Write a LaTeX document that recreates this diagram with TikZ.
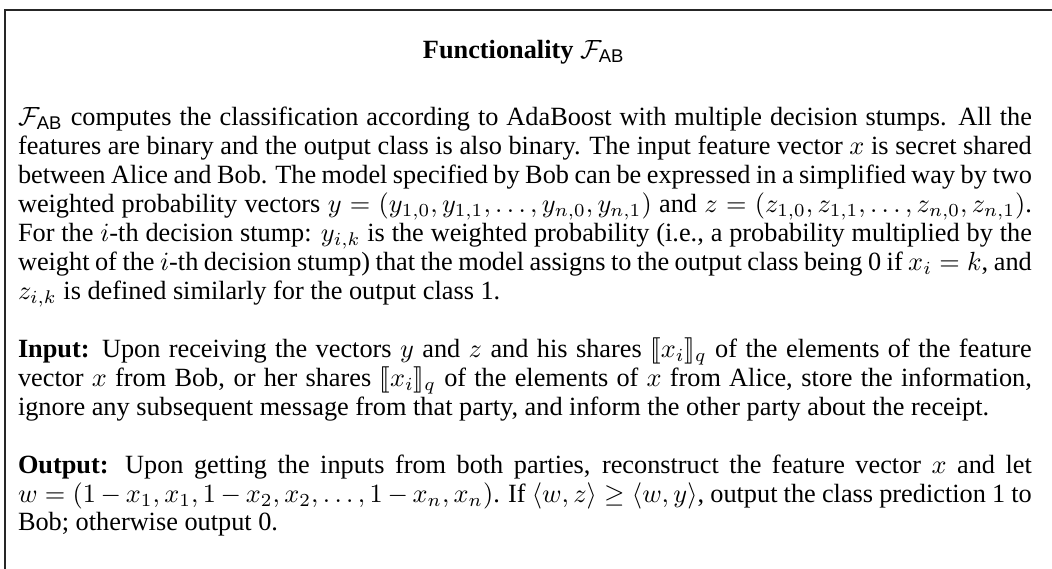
\documentclass[tikz,border=0pt]{standalone}
\usepackage{amsmath}
\usepackage{stmaryrd}
\usepackage[no-math]{fontspec}
\setmainfont{Liberation Serif}
\newfontfamily\helv{Liberation Sans}
% functionality symbol with sans-serif subscript
\newcommand\FAB{\mathcal{F}_{\text{\helv AB}}}
\newcommand\shr[1]{\llbracket #1\rrbracket_q}
% column width and interword spacing
\newlength\colw
\setlength\colw{385.5pt}
\newcommand\wordspacing{\spaceskip=0.25em plus 0.2em minus 0.08em
  \xspaceskip=0.33em plus 0.4em minus 0.06em\relax}
% one justified line, and a final ragged line
\newcommand\jline[1]{\noindent\hbox to\colw{\wordspacing#1}\par}
\newcommand\lastline[1]{\noindent\hbox to\colw{\wordspacing#1\hfil}\par}
\newcommand\bodyfont{\fontsize{10}{11}\selectfont}
\begin{document}
\begin{tikzpicture}[x=1pt,y=1pt,
  para/.style={anchor=base west, inner sep=0pt, text width=\colw, font=\bodyfont},
  heading/.style={anchor=base, inner sep=0pt, font=\bodyfont},
  frame/.style={draw=black!85, line width=0.6pt}]
\useasboundingbox (0,0) rectangle (400,-216.35);
\begin{scope}
  \clip (0,0) rectangle (400,-216.35);
  \coordinate (fbl) at (1.9,-300);
  \coordinate (ftr) at (500,-3.8);
  \draw[frame] (fbl) |- (ftr);
\end{scope}

\node[heading] (title) at (199.2,-22.3) {\wordspacing\textbf{Functionality} $\FAB$};

\node[para] (intro) at (6.65,-47.9) {%
\jline{$\FAB$ computes the classification according to AdaBoost with multiple decision stumps. All the}
\jline{features are binary and the output class is also binary. The input feature vector $x$ is secret shared}
\jline{between Alice and Bob. The model specified by Bob can be expressed in a simplified way by two}
\jline{weighted probability vectors $y=(y_{1,0},y_{1,1},\dots,y_{n,0},y_{n,1})$ and $z=(z_{1,0},z_{1,1},\dots,z_{n,0},z_{n,1})$.}
\jline{For the $i$-th decision stump: $y_{i,k}$ is the weighted probability (i.e., a probability multiplied by the}
\jline{weight of the $i$-th decision stump) that the model assigns to the output class being 0 if $x_i=k$, and}
\lastline{$z_{i,k}$ is defined similarly for the output class 1.}};

\node[para] (input) at (6.65,-135.9) {%
\jline{\textbf{Input:} Upon receiving the vectors $y$ and $z$ and his shares $\shr{x_i}$ of the elements of the feature}
\jline{vector $x$ from Bob, or her shares $\shr{x_i}$ of the elements of $x$ from Alice, store the information,}
\lastline{ignore any subsequent message from that party, and inform the other party about the receipt.}};

\node[para] (output) at (6.65,-179.9) {%
\jline{\textbf{Output:} Upon getting the inputs from both parties, reconstruct the feature vector $x$ and let}
\jline{$w=(1-x_1,x_1,1-x_2,x_2,\dots,1-x_n,x_n)$. If $\langle w,z\rangle\geq\langle w,y\rangle$, output the class prediction 1 to}
\lastline{Bob; otherwise output 0.}};
\end{tikzpicture}
\end{document}
